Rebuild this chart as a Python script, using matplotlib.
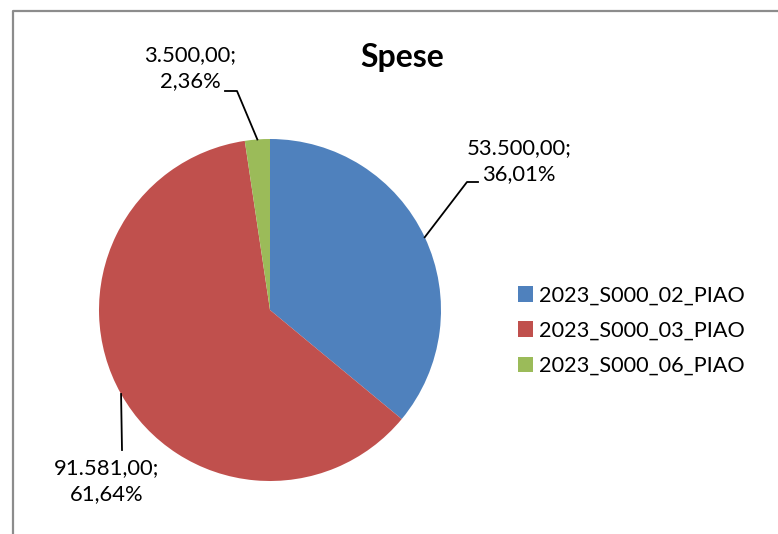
import numpy as np
import matplotlib
matplotlib.use("Agg")
import matplotlib.pyplot as plt

# ---- data ----
categories = ["2023_S000_02_PIAO", "2023_S000_03_PIAO", "2023_S000_06_PIAO"]
values = [53500.00, 91581.00, 3500.00]
value_labels = ["53.500,00;", "91.581,00;", "3.500,00;"]
pct_labels = ["36,01%", "61,64%", "2,36%"]
colors = ["#4F81BD", "#C0504D", "#9BBB59"]
title = "Spese"

W, H = 778, 534
plt.rcParams['font.family'] = ['Lato', 'DejaVu Sans']
fig = plt.figure(figsize=(W / 100, H / 100), dpi=100)
ax = fig.add_axes([0, 0, 1, 1])

def P(x, y):
    """pixel coordinates (top-left origin) -> data coordinates"""
    return x, H - y

cx, cy = P(270, 310)
R = 171
wedges, _ = ax.pie(values, colors=colors, startangle=90, counterclock=False,
                   center=(cx, cy), radius=R, frame=True,
                   wedgeprops=dict(linewidth=0))
ax.set_xlim(0, W)
ax.set_ylim(0, H)
ax.set_aspect('auto')
ax.axis('off')

# frame (only left and top edges visible)
ax.plot([13, 13, W], [0, H - 11, H - 11], color='#8C8C8C', lw=1.6, clip_on=False)

# title
ax.text(*P(402, 57), title, ha='center', va='center', fontsize=23, fontweight='bold')

# label geometry: elbow point, end of horizontal, text centre
label_layout = [
    dict(elbow=(467, 182), end=(478, 182), text=(519, 161)),
    dict(elbow=(122, 450), end=None, text=(107, 481)),
    dict(elbow=(237, 91), end=(225, 91), text=(190, 68)),
]

for w, vl, pl, lay in zip(wedges, value_labels, pct_labels, label_layout):
    ang = np.deg2rad((w.theta1 + w.theta2) / 2)
    ax_pt = (cx + R * np.cos(ang), cy + R * np.sin(ang))
    e = P(*lay['elbow'])
    xs = [ax_pt[0], e[0]]
    ys = [ax_pt[1], e[1]]
    if lay['end'] is not None:
        en = P(*lay['end'])
        xs.append(en[0]); ys.append(en[1])
    ax.plot(xs, ys, color='black', lw=1.3)
    ax.text(*P(*lay['text']), vl + "\n" + pl, ha='center', va='center',
            fontsize=15.8, linespacing=1.42)

# legend
leg = ax.legend(wedges, categories, loc='upper left',
                bbox_to_anchor=(498 / W, 1 - 266 / H), frameon=False,
                fontsize=15.6, handlelength=0.72, handleheight=0.72,
                handletextpad=0.28, labelspacing=0.7)

fig.savefig("out.png", dpi=100)
